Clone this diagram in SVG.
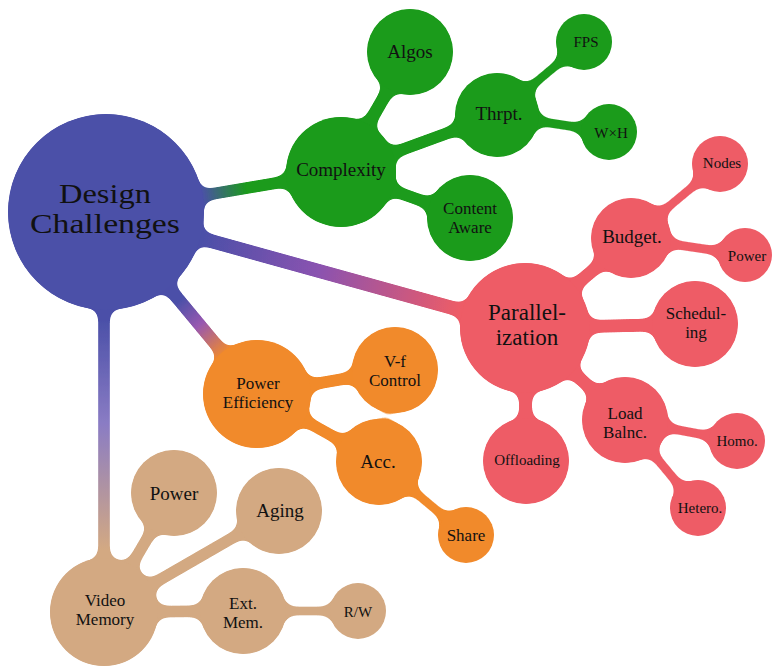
<svg xmlns="http://www.w3.org/2000/svg" xmlns:xlink="http://www.w3.org/1999/xlink" width="772" height="666" viewBox="0 0 772 666">
<style>
text{font-family:"Liberation Serif","Times New Roman",serif;fill:#111;text-anchor:middle}
.f0{font-size:27px}.f1{font-size:23px}.f2{font-size:19px}.f2b{font-size:17px}.f3{font-size:15px}
.blue{fill:#4b50a8}.green{fill:#1b9b1b}.red{fill:#ee5c66}.orange{fill:#f18a2b}.tan{fill:#d3a982}
.bar{fill:none;stroke-linecap:round}
</style>
<defs>
<filter id="goo" filterUnits="userSpaceOnUse" x="0" y="0" width="772" height="666">
<feGaussianBlur in="SourceGraphic" stdDeviation="6" result="b"/>
<feColorMatrix in="b" mode="matrix" values="1 0 0 0 0  0 1 0 0 0  0 0 1 0 0  0 0 0 19 -9" result="g"/>
<feComposite in="SourceGraphic" in2="g" operator="atop"/>
</filter>
<linearGradient id="gBG" gradientUnits="userSpaceOnUse" x1="200" y1="186" x2="245" y2="178"><stop offset="0" stop-color="#4b50a8"/><stop offset="1" stop-color="#1b9b1b"/></linearGradient>
<linearGradient id="gBR" gradientUnits="userSpaceOnUse" x1="200" y1="245" x2="462" y2="305"><stop offset="0" stop-color="#4b50a8"/><stop offset="0.45" stop-color="#8a52b0"/><stop offset="1" stop-color="#ee5c66"/></linearGradient>
<linearGradient id="gBO" gradientUnits="userSpaceOnUse" x1="182" y1="298" x2="228" y2="352"><stop offset="0" stop-color="#4b50a8"/><stop offset="0.45" stop-color="#9858b0"/><stop offset="1" stop-color="#f18a2b"/></linearGradient>
<linearGradient id="gBT" gradientUnits="userSpaceOnUse" x1="104" y1="320" x2="104" y2="550"><stop offset="0" stop-color="#4b50a8"/><stop offset="0.45" stop-color="#8a7cc4"/><stop offset="1" stop-color="#d3a982"/></linearGradient>
</defs>

<g id="connectors" filter="url(#goo)">
<line class="bar" x1="106" y1="212" x2="341" y2="172" stroke="url(#gBG)" stroke-width="12"/>
<line class="bar" x1="106" y1="212" x2="525" y2="328" stroke="url(#gBR)" stroke-width="14"/>
<line class="bar" x1="106" y1="212" x2="257" y2="394" stroke="url(#gBO)" stroke-width="13"/>
<line class="bar" x1="104" y1="212" x2="104" y2="612" stroke="url(#gBT)" stroke-width="12"/>
<g stroke="#1b9b1b" class="bar">
<line x1="341" y1="172" x2="410" y2="52" stroke-width="13"/>
<line x1="341" y1="172" x2="497" y2="115" stroke-width="12"/>
<line x1="341" y1="172" x2="470" y2="218" stroke-width="12"/>
<line x1="497" y1="115" x2="584" y2="42" stroke-width="10"/>
<line x1="497" y1="115" x2="609" y2="132" stroke-width="10"/>
</g>
<g stroke="#ee5c66" class="bar">
<line x1="525" y1="328" x2="631" y2="238" stroke-width="13"/>
<line x1="525" y1="328" x2="695" y2="324" stroke-width="13"/>
<line x1="525" y1="328" x2="625" y2="420" stroke-width="13"/>
<line x1="525" y1="328" x2="526" y2="461" stroke-width="13"/>
<line x1="631" y1="238" x2="720" y2="164" stroke-width="10"/>
<line x1="631" y1="238" x2="745" y2="255" stroke-width="10"/>
<line x1="625" y1="420" x2="737" y2="441" stroke-width="10"/>
<line x1="625" y1="420" x2="698" y2="508" stroke-width="10"/>
</g>
<g stroke="#f18a2b" class="bar">
<line x1="257" y1="394" x2="395" y2="370" stroke-width="12"/>
<line x1="257" y1="394" x2="379" y2="462" stroke-width="12"/>
<line x1="379" y1="462" x2="466" y2="535" stroke-width="10"/>
</g>
<g stroke="#d3a982" class="bar">
<line x1="104" y1="612" x2="174" y2="493" stroke-width="12"/>
<line x1="104" y1="612" x2="279" y2="511" stroke-width="12"/>
<line x1="104" y1="612" x2="243" y2="611" stroke-width="12"/>
<line x1="243" y1="611" x2="358" y2="611" stroke-width="10"/>
</g>
<use href="#c0"/><use href="#c1"/><use href="#c2"/><use href="#c3"/><use href="#c4"/><use href="#c5"/><use href="#c6"/>
<use href="#c7"/><use href="#c8"/><use href="#c9"/><use href="#c10"/><use href="#c11"/><use href="#c12"/><use href="#c13"/><use href="#c14"/><use href="#c15"/>
<use href="#c16"/><use href="#c17"/><use href="#c18"/><use href="#c19"/>
<use href="#c20"/><use href="#c21"/><use href="#c22"/><use href="#c23"/><use href="#c24"/>
</g>

<g id="design-challenges"><circle id="c0" class="blue" cx="106" cy="212" r="98"/>
<text class="f0"><tspan x="105" y="203" textLength="92" lengthAdjust="spacingAndGlyphs">Design</tspan><tspan x="105" y="233" textLength="150" lengthAdjust="spacingAndGlyphs">Challenges</tspan></text></g>

<g id="complexity"><circle id="c1" class="green" cx="341" cy="172" r="55"/><text class="f2" x="341" y="176">Complexity</text></g>
<g id="algos"><circle id="c2" class="green" cx="410" cy="52" r="43"/><text class="f2" x="410" y="58">Algos</text></g>
<g id="thrpt"><circle id="c3" class="green" cx="497" cy="115" r="42"/><text class="f2" x="499" y="120">Thrpt.</text></g>
<g id="fps"><circle id="c4" class="green" cx="584" cy="42" r="28"/><text class="f3" x="586" y="47">FPS</text></g>
<g id="wxh"><circle id="c5" class="green" cx="609" cy="132" r="28"/><text class="f3" x="611" y="138">W×H</text></g>
<g id="content-aware"><circle id="c6" class="green" cx="470" cy="218" r="43"/><text class="f2b"><tspan x="470" y="214">Content</tspan><tspan x="470" y="233">Aware</tspan></text></g>

<g id="parallelization"><circle id="c7" class="red" cx="525" cy="328" r="65"/><text class="f1"><tspan x="527" y="320">Parallel-</tspan><tspan x="527" y="345">ization</tspan></text></g>
<g id="budget"><circle id="c8" class="red" cx="631" cy="238" r="40"/><text class="f2" x="632" y="243">Budget.</text></g>
<g id="nodes"><circle id="c9" class="red" cx="720" cy="164" r="28"/><text class="f3" x="722" y="168">Nodes</text></g>
<g id="power-budget"><circle id="c10" class="red" cx="745" cy="255" r="27"/><text class="f3" x="747" y="261">Power</text></g>
<g id="scheduling"><circle id="c11" class="red" cx="695" cy="324" r="43"/><text class="f2b"><tspan x="696" y="319">Schedul-</tspan><tspan x="696" y="338">ing</tspan></text></g>
<g id="load-balnc"><circle id="c12" class="red" cx="625" cy="420" r="43"/><text class="f2b"><tspan x="625" y="419">Load</tspan><tspan x="625" y="438">Balnc.</tspan></text></g>
<g id="homo"><circle id="c13" class="red" cx="737" cy="441" r="28"/><text class="f3" x="737" y="446">Homo.</text></g>
<g id="hetero"><circle id="c14" class="red" cx="698" cy="508" r="28"/><text class="f3" x="700" y="513">Hetero.</text></g>
<g id="offloading"><circle id="c15" class="red" cx="526" cy="461" r="43"/><text class="f3" x="527" y="465">Offloading</text></g>

<g id="power-efficiency"><circle id="c16" class="orange" cx="257" cy="394" r="54"/><text class="f2b"><tspan x="258" y="389">Power</tspan><tspan x="258" y="408">Efficiency</tspan></text></g>
<g id="vf-control"><circle id="c17" class="orange" cx="395" cy="370" r="43"/><text class="f2b"><tspan x="395" y="367">V-f</tspan><tspan x="395" y="386">Control</tspan></text></g>
<g id="acc"><circle id="c18" class="orange" cx="379" cy="462" r="43"/><text class="f2" x="378" y="468">Acc.</text></g>
<g id="share"><circle id="c19" class="orange" cx="466" cy="535" r="28"/><text class="f2b" x="466" y="541">Share</text></g>

<g id="video-memory"><circle id="c20" class="tan" cx="104" cy="612" r="54"/><text class="f2b"><tspan x="105" y="606">Video</tspan><tspan x="105" y="625">Memory</tspan></text></g>
<g id="power-memory"><circle id="c21" class="tan" cx="174" cy="493" r="43"/><text class="f2" x="174" y="500">Power</text></g>
<g id="aging"><circle id="c22" class="tan" cx="279" cy="511" r="43"/><text class="f2" x="280" y="517">Aging</text></g>
<g id="ext-mem"><circle id="c23" class="tan" cx="243" cy="611" r="43"/><text class="f2b"><tspan x="243" y="609">Ext.</tspan><tspan x="243" y="628">Mem.</tspan></text></g>
<g id="rw"><circle id="c24" class="tan" cx="358" cy="611" r="28"/><text class="f3" x="358" y="617">R/W</text></g>
</svg>
